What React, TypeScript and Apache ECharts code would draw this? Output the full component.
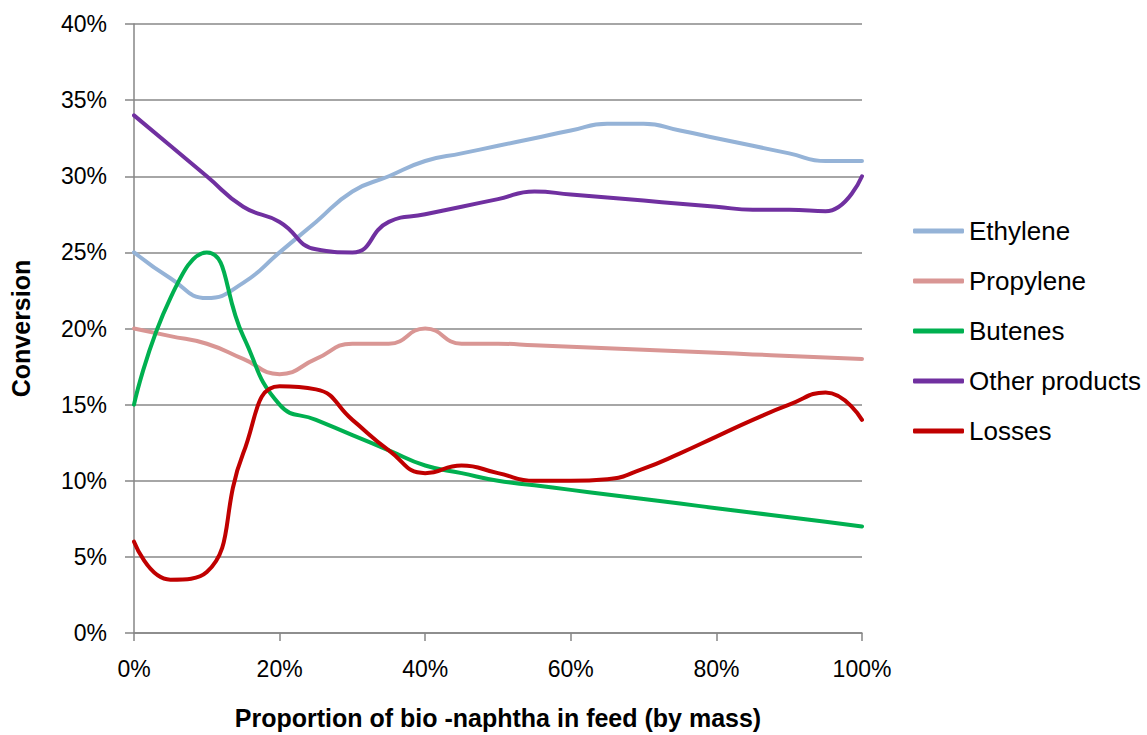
import React, { useEffect, useRef } from "react";
import * as echarts from "echarts";

const xValues = [0, 5, 10, 15, 20, 25, 30, 35, 40, 45, 50, 55, 60, 65, 70, 75, 80, 85, 90, 95, 100];
const ethylene = [25, 23.3, 22, 23, 25, 27, 29, 30, 31, 31.5, 32, 32.5, 33, 33.45, 33.45, 33, 32.5, 32, 31.5, 31, 31];
const propylene = [20, 19.5, 19, 18, 17, 18, 19, 19, 20, 19, 19, 18.9, 18.8, 18.7, 18.6, 18.5, 18.4, 18.3, 18.2, 18.1, 18];
const butenes = [15, 22, 25, 19.5, 15, 14, 13, 12, 11, 10.5, 10, 9.7, 9.4, 9.1, 8.8, 8.5, 8.2, 7.9, 7.6, 7.3, 7];
const otherProducts = [34, 32, 30, 28, 27, 25.2, 25, 27, 27.5, 28, 28.5, 29, 28.8, 28.6, 28.4, 28.2, 28, 27.8, 27.8, 27.7, 30];
const losses = [6, 3.5, 4, 11.8, 16.2, 16, 14, 12, 10.5, 11, 10.5, 10, 10, 10.1, 10.8, 11.8, 12.9, 14, 15, 15.8, 14];

const seriesNames = ["Ethylene", "Propylene", "Butenes", "Other products", "Losses"];
const seriesValues = [ethylene, propylene, butenes, otherProducts, losses];
const seriesColors = ["#95B3D7", "#D99694", "#00B050", "#7030A0", "#C00000"];

const FONT = "'Liberation Sans', Arial, sans-serif";

export default function App() {
  const ref = useRef<HTMLDivElement>(null);
  useEffect(() => {
    if (!ref.current) return;
    const chart = echarts.init(ref.current, null, { renderer: "svg" });
    chart.setOption({
      animation: false,
      backgroundColor: "#ffffff",
      textStyle: { fontFamily: FONT },
      grid: { left: 132, right: 285, top: 24, bottom: 96, containLabel: false },
      legend: {
        orient: "vertical",
        left: 908,
        top: 212,
        itemWidth: 51,
        itemHeight: 5,
        itemGap: 22,
        icon: "roundRect",
        textStyle: { fontFamily: FONT, fontSize: 26, color: "#000", lineHeight: 28 },
        data: seriesNames,
      },
      xAxis: {
        type: "value",
        min: 0,
        max: 100,
        interval: 20,
        name: "Proportion of bio -naphtha in feed (by mass)",
        nameLocation: "middle",
        nameGap: 72,
        nameTextStyle: { fontFamily: FONT, fontSize: 25, fontWeight: "bold", color: "#000" },
        axisLine: { show: true, lineStyle: { color: "#868686", width: 1.5 } },
        axisTick: { show: true, length: 8, lineStyle: { color: "#868686", width: 1.5 } },
        axisLabel: { formatter: "{value}%", fontFamily: FONT, fontSize: 23, color: "#000", margin: 24 },
        splitLine: { show: false },
      },
      yAxis: {
        type: "value",
        min: 0,
        max: 40,
        interval: 5,
        name: "Conversion",
        nameLocation: "middle",
        nameGap: 101,
        nameRotate: 90,
        nameTextStyle: { fontFamily: FONT, fontSize: 25, fontWeight: "bold", color: "#000" },
        axisLine: { show: true, lineStyle: { color: "#868686", width: 1.5 } },
        axisTick: { show: true, length: 9, lineStyle: { color: "#868686", width: 1.5 } },
        axisLabel: { formatter: "{value}%", fontFamily: FONT, fontSize: 23, color: "#000", margin: 27 },
        splitLine: { show: true, lineStyle: { color: "#888888", width: 1.5 } },
      },
      series: seriesNames.map((name, i) => ({
        name,
        type: "line",
        smooth: 0.5,
        symbol: "none",
        data: xValues.map((x, j) => [x, seriesValues[i][j]]),
        lineStyle: { color: seriesColors[i], width: 4, cap: "round" },
        itemStyle: { color: seriesColors[i] },
      })),
    });
    return () => chart.dispose();
  }, []);
  return <div ref={ref} style={{ width: 1147, height: 735, position: "absolute", left: 0, top: 0 }} />;
}
